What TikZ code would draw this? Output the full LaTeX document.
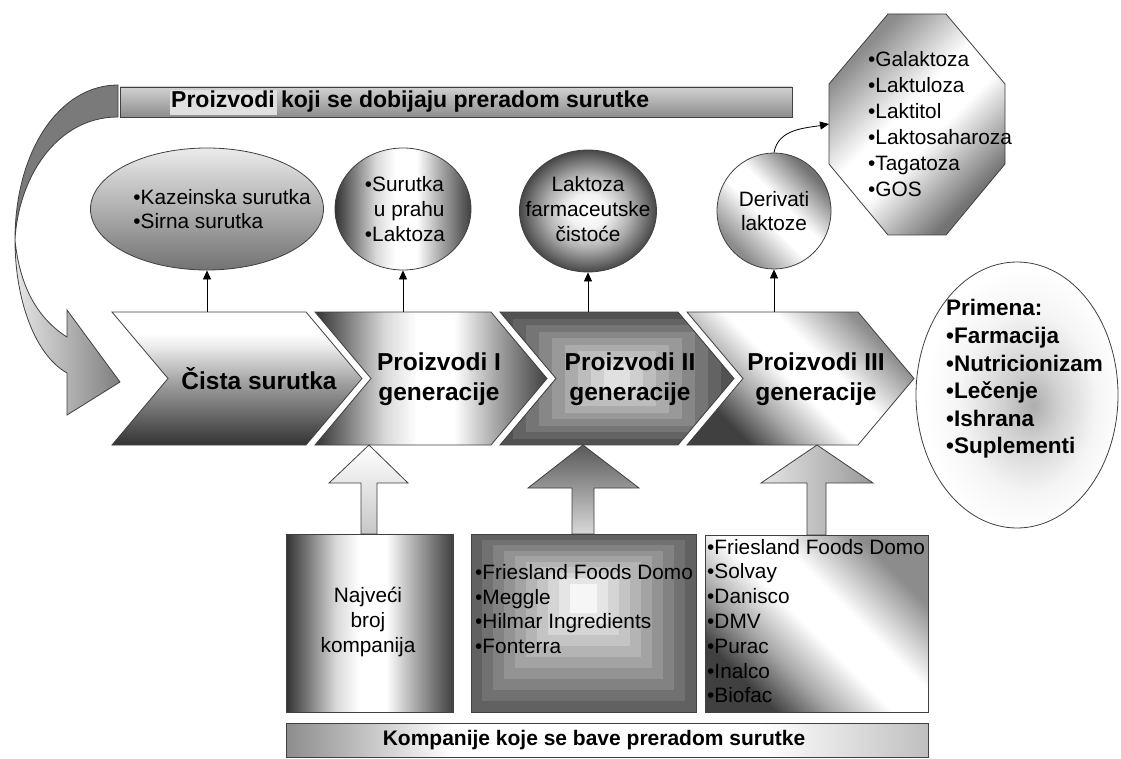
\documentclass[tikz,border=0pt]{standalone}
\usepackage{fontspec}
\setmainfont{Liberation Sans}
\usetikzlibrary{shapes.geometric,arrows.meta}

% sencenja
\pgfdeclarehorizontalshading{valjak}{100bp}{color(0bp)=(black!80); color(25bp)=(black!80); color(31bp)=(black!55); color(40bp)=(black!15); color(47bp)=(white); color(55bp)=(white); color(64bp)=(black!35); color(75bp)=(black!75); color(100bp)=(black!75)}
\pgfdeclarehorizontalshading{kosa}{100bp}{color(0bp)=(black!75); color(27bp)=(black!75); color(37bp)=(black!35); color(48bp)=(white); color(58bp)=(white); color(73bp)=(black!45); color(100bp)=(black!45)}
\pgfdeclarehorizontalshading{dijag}{100bp}{color(0bp)=(black!45); color(27bp)=(black!45); color(45bp)=(white); color(55bp)=(white); color(73bp)=(black!55); color(100bp)=(black!55)}
\pgfdeclarehorizontalshading{traka}{100bp}{color(0bp)=(black!45); color(25bp)=(black!45); color(38bp)=(white); color(62bp)=(white); color(75bp)=(black!25); color(100bp)=(black!25)}
\pgfdeclareverticalshading{pad}{100bp}{color(0bp)=(black!80); color(25bp)=(black!80); color(47bp)=(black!40); color(62bp)=(black!8); color(67bp)=(white); color(100bp)=(white)}
\pgfdeclareradialshading{kugla}{\pgfpoint{0bp}{0bp}}{color(0bp)=(white); color(7bp)=(black!5); color(15bp)=(black!30); color(21bp)=(black!55); color(25bp)=(black!72); color(50bp)=(black!72)}
\pgfdeclareradialshading{primena}{\pgfpoint{4bp}{-2bp}}{color(0bp)=(black!32); color(7bp)=(black!18); color(17bp)=(black!4); color(25bp)=(white); color(50bp)=(white)}

\begin{document}
\begin{tikzpicture}[x=1pt,y=-1pt]
    \tikzstyle{okvir}=[draw=black!75, line width=0.8pt]
    \tikzstyle{naslov}=[font=\fontsize{24.5}{30}\selectfont\bfseries, align=center, inner sep=0pt]
    \tikzstyle{lista}=[font=\fontsize{20.8}{24.8}\selectfont, align=left, inner sep=0pt]
    \tikzstyle{oblik}=[okvir, ellipse, inner sep=0pt]
    \tikzstyle{strelica}=[-{Triangle[length=9pt,width=8pt]}, line width=0.8pt]

    \useasboundingbox (0,0) rectangle (1121,759);

    % zakrivljena strelica
    \draw [okvir, fill=black!52] (118,85) .. controls (60,85) and (15,150) .. (15,240)
        .. controls (18,180) and (55,117) .. (118,117) -- cycle;
    \draw [okvir, left color=black!10, right color=black!50] (15,240) .. controls (15,300) and (35,355) .. (67,373)
        -- (67,415) -- (120,382) -- (67,310) -- (67,337) .. controls (40,320) and (20,290) .. (15,240);

    % gornja traka
    \draw [okvir, top color=black!18, bottom color=black!45] (120,87) rectangle (792,117);
    \fill [white!88!black] (170,90) rectangle (277,115);
    \node [font=\fontsize{23}{27}\selectfont\bfseries, anchor=west, inner sep=0pt] (proizvodi) at (171,102) {Proizvodi koji se dobijaju preradom surutke};

    % proizvodi iznad strelica
    \node [oblik, minimum width=233pt, minimum height=122pt, top color=black!8, bottom color=black!55] (kaz) at (207,209) {};
    \node [lista] (kazT) at (222,209) {•Kazeinska surutka\\•Sirna surutka};
    \node [oblik, minimum width=136pt, minimum height=122pt, shading=valjak] (prah) at (403,209) {};
    \node [lista] (prahT) at (405,209) {•Surutka\\\hspace{9pt}u prahu\\•Laktoza};
    \node [oblik, minimum width=137pt, minimum height=122pt, shading=kugla] (farm) at (588,211) {};
    \node [lista, align=center] (farmT) at (588,209) {Laktoza\\farmaceutske\\čistoće};
    \node [oblik, minimum width=114pt, minimum height=116pt, shading=dijag, shading angle=45] (deriv) at (774,211) {};
    \node [lista, align=center] (derivT) at (774,211) {Derivati\\laktoze};

    % derivati laktoze
    \draw [okvir, shading=dijag, shading angle=-45] (888,14) -- (946,14) -- (1005,84) -- (1005,164)
        -- (946,235) -- (888,235) -- (829,164) -- (829,84) -- cycle;
    \coordinate (okt) at (829,124);
    \node [lista, anchor=west, font=\fontsize{20.8}{26}\selectfont] (oktT) at (868,124)
        {•Galaktoza\\•Laktuloza\\•Laktitol\\•Laktosaharoza\\•Tagatoza\\•GOS};
    \draw [strelica] (deriv.north) to[out=80, in=190] (okt);

    % primena
    \node [oblik, minimum width=202pt, minimum height=266pt, shading=primena] (primena) at (1017,395) {};
    \node [anchor=west, align=left, inner sep=0pt, font=\fontsize{22.5}{27.6}\selectfont\bfseries] (primenaT) at (946,379)
        {Primena:\\•Farmacija\\•Nutricionizam\\•Lečenje\\•Ishrana\\•Suplementi};

    % strelice generacija
    \draw [okvir, shading=pad] (112,312) -- (306,312) -- (362,378.5) -- (306,445) -- (112,445) -- (168,378.5) -- cycle;
    \draw [okvir, shading=valjak] (315,312) -- (491,312) -- (547,378.5) -- (491,445) -- (315,445) -- (371,378.5) -- cycle;
    \begin{scope}
        \clip (500,312) -- (678,312) -- (734,378.5) -- (678,445) -- (500,445) -- (556,378.5) -- cycle;
        \foreach \i [evaluate=\i as \c using 68-\i*7] in {0,...,9}
            \fill [black!\c] (500+\i*13,312+\i*6.5) rectangle (734-\i*13,445-\i*6.5);
    \end{scope}
    \draw [okvir] (500,312) -- (678,312) -- (734,378.5) -- (678,445) -- (500,445) -- (556,378.5) -- cycle;
    \draw [okvir, shading=kosa, shading angle=45] (687,312) -- (858,312) -- (914,378.5) -- (858,445) -- (687,445) -- (743,378.5) -- cycle;

    \node [naslov] (cista) at (259,379) {Čista surutka};
    \node [naslov] (gen1) at (439,379) {Proizvodi I\\generacije};
    \node [naslov] (gen2) at (630,379) {Proizvodi II\\generacije};
    \node [naslov] (gen3) at (816,379) {Proizvodi III\\generacije};

    \coordinate (c1) at (207,312);
    \coordinate (c2) at (403,312);
    \coordinate (c3) at (588,312);
    \coordinate (c4) at (774,312);
    \draw [strelica] (c1) -- (kaz.south);
    \draw [strelica] (c2) -- (prah.south);
    \draw [strelica] (c3) -- (farm.south);
    \draw [strelica] (c4) -- (deriv.south);

    % strelice kompanija
    \draw [okvir, top color=white, bottom color=black!22] (369,445) -- (408,483) -- (377,483) -- (377,534)
        -- (361,534) -- (361,483) -- (329,483) -- cycle;
    \draw [okvir, top color=black!65, bottom color=black!15] (583,445) -- (639,488) -- (594,488) -- (594,534)
        -- (572,534) -- (572,488) -- (528,488) -- cycle;
    \draw [okvir, left color=black!10, right color=black!40] (817,445) -- (873,483) -- (826,483) -- (826,535)
        -- (807,535) -- (807,483) -- (761,483) -- cycle;

    % kompanije
    \draw [okvir, shading=valjak] (286,534) rectangle (453,712);
    \begin{scope}
        \clip (471,534) rectangle (696,712);
        \foreach \i [evaluate=\i as \c using 62-\i*6.5] in {0,...,9}
            \fill [black!\c] (471+\i*11,534+\i*5.5) rectangle (696-\i*11,712-\i*11);
    \end{scope}
    \draw [okvir] (471,534) rectangle (696,712);
    \draw [okvir, shading=kosa, shading angle=45] (705,535) rectangle (928,712);

    \node [lista, align=center] (najveci) at (368,622) {Najveći\\broj\\kompanija};
    \node [lista, anchor=west] (lista2) at (475,609) {•Friesland Foods Domo\\•Meggle\\•Hilmar Ingredients\\•Fonterra};
    \node [lista, anchor=west] (lista3) at (707,621) {•Friesland Foods Domo\\•Solvay\\•Danisco\\•DMV\\•Purac\\•Inalco\\•Biofac};

    % donja traka
    \draw [okvir, shading=traka] (286,723) rectangle (928,757);
    \node [font=\fontsize{21}{25}\selectfont\bfseries, inner sep=0pt] (kompanije) at (594,740) {Kompanije koje se bave preradom surutke};

\end{tikzpicture}
\end{document}
